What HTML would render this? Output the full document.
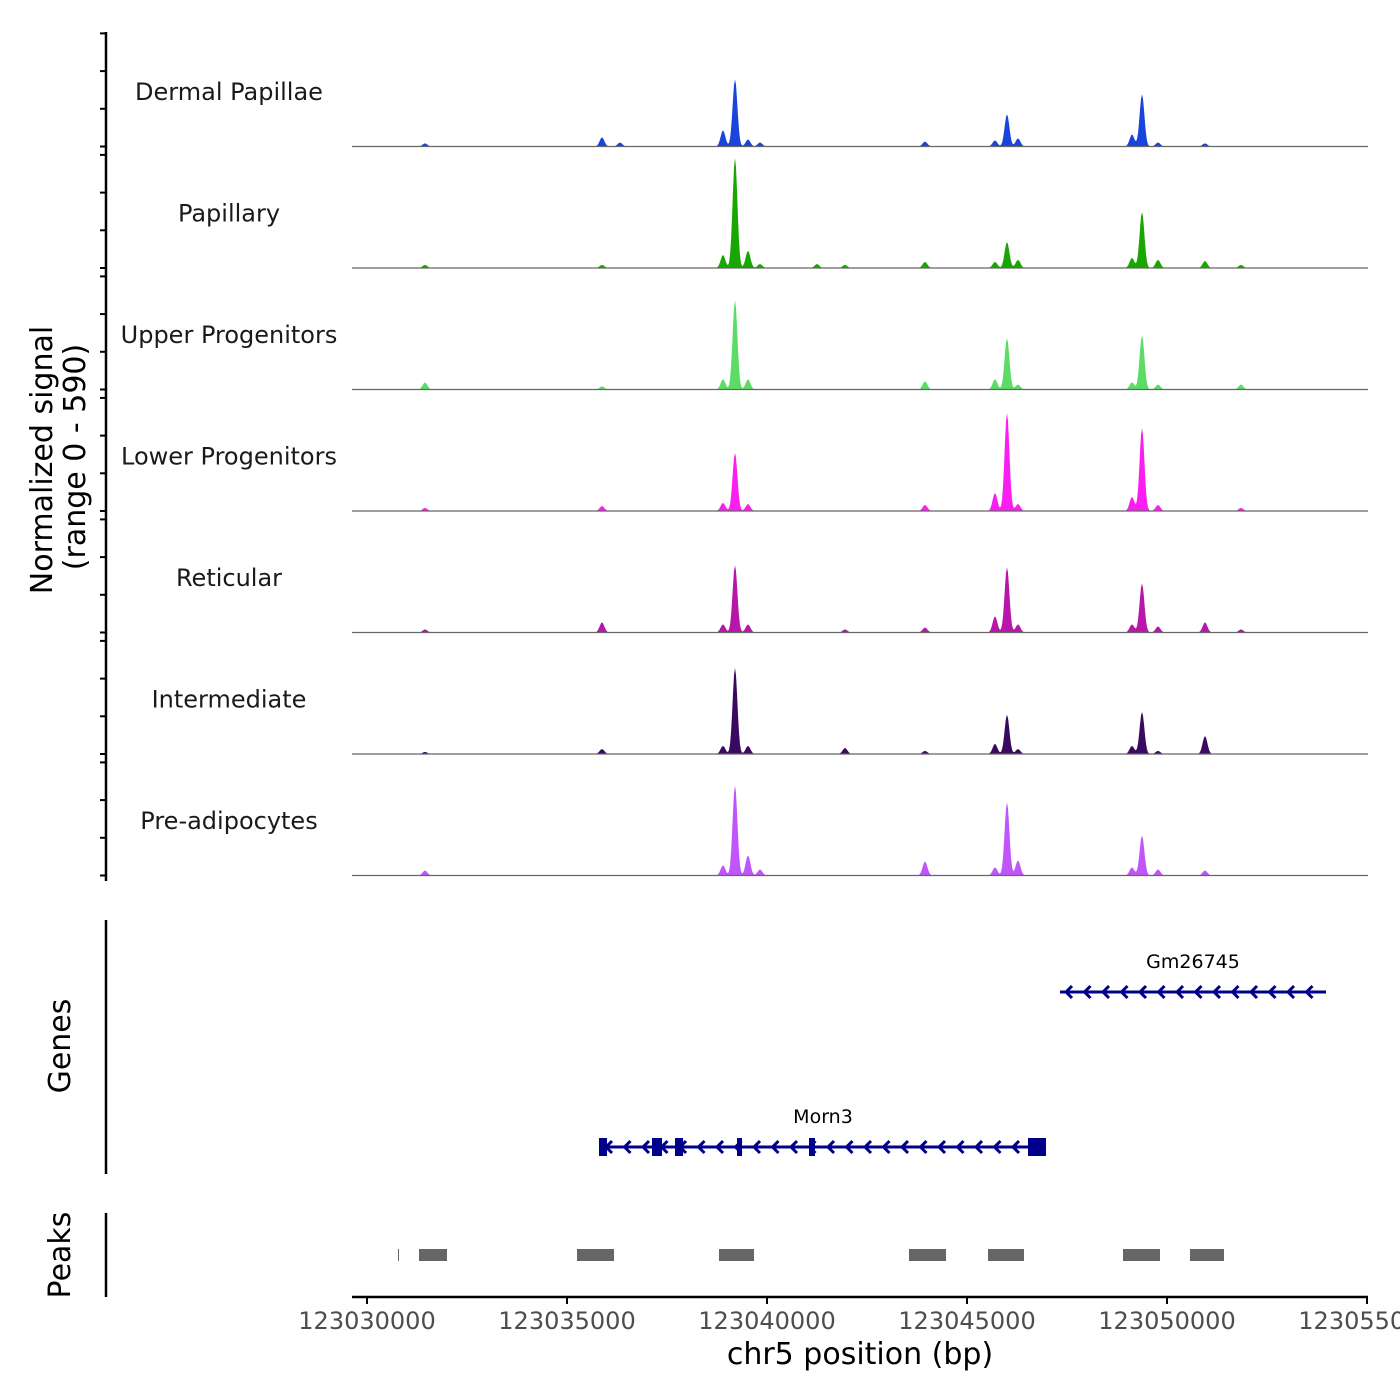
<!DOCTYPE html>
<html><head><meta charset="utf-8"><style>
html,body{margin:0;padding:0;background:#fff;}
svg{display:block;font-family:"DejaVu Sans","Liberation Sans",sans-serif;}
</style></head><body>
<svg id="chart" width="1400" height="1400" viewBox="0 0 1400 1400" xmlns="http://www.w3.org/2000/svg">
<g id="tracks"></g>
<g id="leftaxes"></g>
<g id="genes"></g>
<g id="peaks"></g>
<g id="xaxis"></g>
<text transform="translate(52,460) rotate(-90)" text-anchor="middle" font-size="30" fill="#000">Normalized signal</text>
<text transform="translate(85,457) rotate(-90)" text-anchor="middle" font-size="30" fill="#000">(range 0 - 590)</text>
<text transform="translate(70,1046) rotate(-90)" text-anchor="middle" font-size="30" fill="#000">Genes</text>
<text transform="translate(70,1255) rotate(-90)" text-anchor="middle" font-size="30" fill="#000">Peaks</text>
<text x="860" y="1364" text-anchor="middle" font-size="30" fill="#000">chr5 position (bp)</text>
</svg>
<script>
const NS="http://www.w3.org/2000/svg";
// ---- data ----
const trackNames=["Dermal Papillae","Papillary","Upper Progenitors","Lower Progenitors","Reticular","Intermediate","Pre-adipocytes"];
const trackColors=["#1a45dc","#1aa600","#5cdc66","#fb1ef0","#b816aa","#3a0a60","#bf55fb"];
const peakPos=[123031450,123035875,123036325,123038900,123039200,123039525,123039825,123041250,123041950,123043950,123045700,123046000,123046275,123049125,123049375,123049775,123050950,123051850];
const sigDermal=[15,44,19,78,326,34,19,0,0,24,29,156,39,58,253,19,15,0];
const sigPapillary=[15,15,0,63,534,83,19,19,15,29,29,126,39,49,272,39,34,15];
const sigUpper=[34,15,0,49,432,49,0,0,0,39,49,248,24,34,262,24,0,24];
const sigLower=[15,24,0,39,282,34,0,0,0,29,87,476,34,68,403,29,0,15];
const sigReticular=[15,49,0,39,326,39,0,0,15,24,78,316,39,39,238,29,49,15];
const sigIntermediate=[10,24,0,39,418,39,0,0,29,15,49,190,24,39,204,15,87,0];
const sigPreadip=[24,0,0,49,437,97,29,0,0,68,39,355,73,39,194,29,24,0];
const signals=[sigDermal,sigPapillary,sigUpper,sigLower,sigReticular,sigIntermediate,sigPreadip];
const yMax=590;
const xTicks=[123030000,123035000,123040000,123045000,123050000,123055000];
const peakStarts=[123030775,123031300,123035250,123038800,123043550,123045525,123048900,123050575];
const peakEnds=[123030800,123032000,123036175,123039675,123044475,123046425,123049825,123051425];
const genes=[{name:"Gm26745",start:123047325,end:123053975,row:0},{name:"Morn3",start:123035825,end:123046975,row:1}];
const morn3ExonStarts=[123035800,123037125,123037700,123039250,123041050,123046525];
const morn3ExonEnds=[123036000,123037375,123037900,123039375,123041200,123046975];
// ---- scales ----
const X0=352,X1=1368,BP0=123029625,BP1=123055025;
function xs(bp){return X0+(bp-BP0)/(BP1-BP0)*(X1-X0);}
const trackTop=25,trackH=121.5;
function mk(tag,attrs,parent){const e=document.createElementNS(NS,tag);for(const k in attrs)e.setAttribute(k,attrs[k]);parent.appendChild(e);return e;}
const gT=document.getElementById('tracks');
for(let t=0;t<trackNames.length;t++){
  const base=trackTop+trackH*(t+1);
  const ys=v=>base-v/yMax*trackH;
  let d="M"+xs(123031300)+","+base;
  for(let bp=123031300;bp<=123054200;bp+=25){
    let v=0;
    for(let i=0;i<peakPos.length;i++){const s=signals[t][i];if(!s)continue;const z=(bp-peakPos[i])/60;v+=s*Math.exp(-z*z/2);}
    d+=" L"+xs(bp).toFixed(1)+","+ys(v).toFixed(1);
  }
  d+=" L"+xs(123054200)+","+base+" Z";
  const p=mk('path',{d:d,fill:trackColors[t]},gT);
  
  
  const l=mk('line',{x1:X0,x2:X1,y1:base,y2:base,stroke:'#666','stroke-width':1.2},gT);
  
  
  const tx=mk('text',{x:229,y:trackTop+trackH*t+75,'text-anchor':'middle','font-size':24,fill:'#1a1a1a'},gT);
  tx.textContent=trackNames[t];
  
  
}
// left axes
const gL=document.getElementById('leftaxes');
mk('line',{x1:106,x2:106,y1:32,y2:881,stroke:'#000','stroke-width':2.5},gL);
for(let t=0;t<7;t++){const base=trackTop+trackH*(t+1);for(let k=0;k<4;k++){const y=base-k*37.7;if(y<31)continue;mk('line',{x1:100,x2:106,y1:y,y2:y,stroke:'#000','stroke-width':2},gL);}}
mk('line',{x1:106,x2:106,y1:920,y2:1174,stroke:'#000','stroke-width':2.5},gL);
mk('line',{x1:106,x2:106,y1:1213,y2:1297,stroke:'#000','stroke-width':2.5},gL);
// genes
const gG=document.getElementById('genes');
const rowY=[992,1147];
genes.forEach(g=>{
  const y=rowY[g.row],a=xs(g.start),b=xs(g.end);
  const ln=mk('line',{x1:a,x2:b,y1:y,y2:y,stroke:'#00008b','stroke-width':3},gG);
  
  
  for(let x=a+6;x<b-4;x+=18.5){mk('path',{d:`M${x+6},${y-6} L${x},${y} L${x+6},${y+6}`,fill:'none',stroke:'#00008b','stroke-width':3},gG);}
  const tx=mk('text',{x:(a+b)/2,y:y-24,'text-anchor':'middle','font-size':19,fill:'#000'},gG);
  tx.textContent=g.name;
  
  
});
for(let i=0;i<morn3ExonStarts.length;i++){
  const a=xs(morn3ExonStarts[i]),b=xs(morn3ExonEnds[i]);
  const r=mk('rect',{x:a,y:1138,width:Math.max(5,b-a),height:18,fill:'#00008b'},gG);
  
  
}
// peaks
const gP=document.getElementById('peaks');
for(let i=0;i<peakStarts.length;i++){
  const a=xs(peakStarts[i]),b=xs(peakEnds[i]);
  const r=mk('rect',{x:a,y:1249,width:Math.max(1,b-a),height:12,fill:'#666'},gP);
  
  
}
// x axis
const gX=document.getElementById('xaxis');
mk('line',{x1:X0,x2:X1,y1:1297,y2:1297,stroke:'#000','stroke-width':2.5},gX);
xTicks.forEach(v=>{
  const x=xs(v);
  mk('line',{x1:x,x2:x,y1:1297,y2:1304,stroke:'#000','stroke-width':2},gX);
  const tx=mk('text',{x:x,y:1329,'text-anchor':'middle','font-size':24,fill:'#4d4d4d'},gX);
  tx.textContent=v;
  
  
});
</script>
</body></html>
